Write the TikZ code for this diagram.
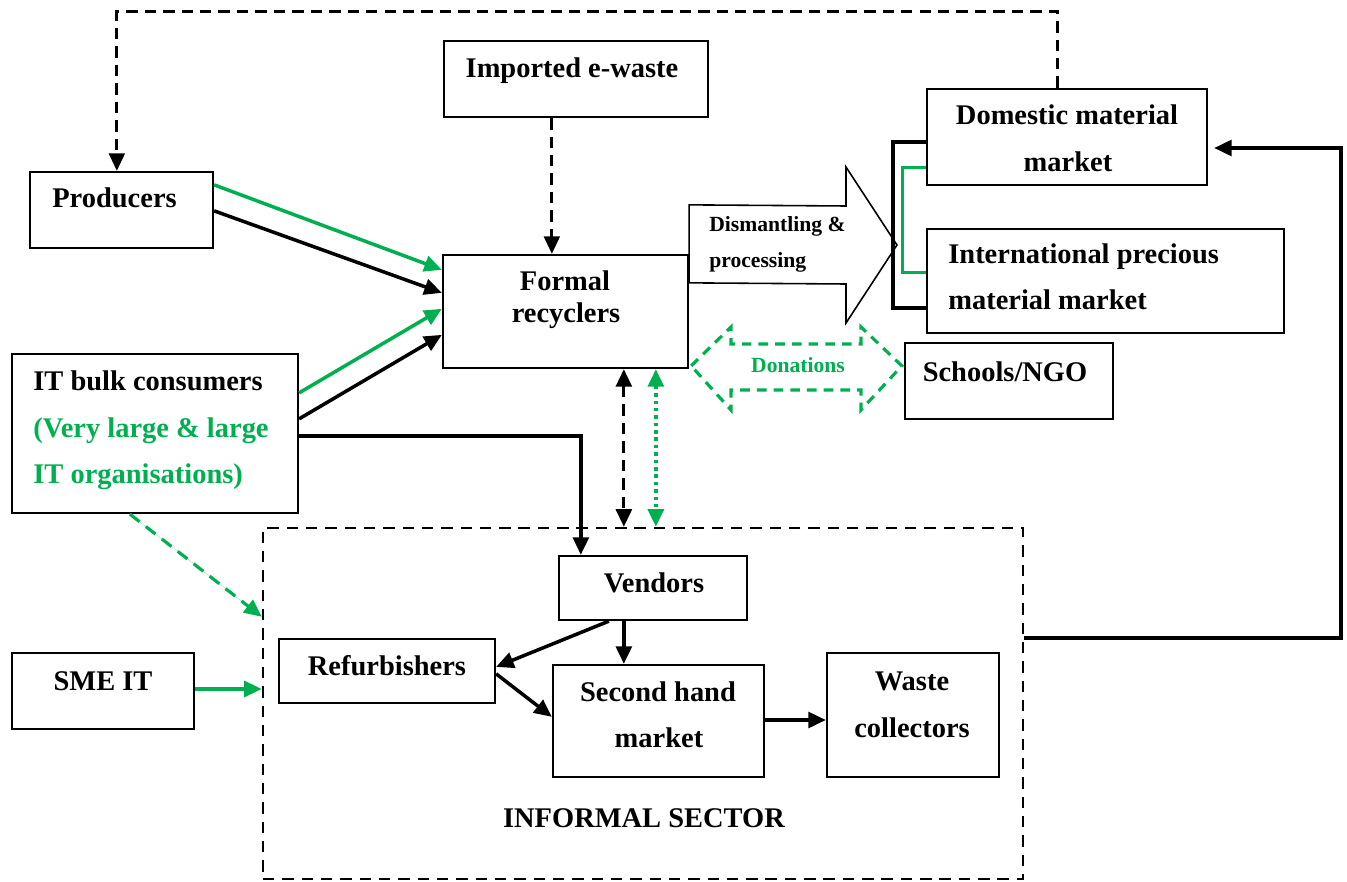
\documentclass[tikz,border=0pt]{standalone}
\usepackage{fontspec}
\setmainfont{Liberation Serif}
\usetikzlibrary{arrows.meta,calc,fit}
\definecolor{ogreen}{HTML}{00B050}
\begin{document}
\begin{tikzpicture}[x=0.02cm,y=-0.02cm,
  box/.style={draw, line width=1.3pt, inner sep=0pt},
  lbl/.style={font=\bfseries\fontsize{16.2}{19}\selectfont, inner sep=0pt, anchor=base},
  smalllbl/.style={font=\bfseries\fontsize{12.3}{15}\selectfont, inner sep=0pt, anchor=base},
  tip/.style={-{Triangle[length=10pt,width=9pt]}},
  flow/.style={line width=2pt, tip},
  gflow/.style={flow, draw=ogreen, fill=ogreen},
  dashline/.style={line width=1.6pt, dash pattern=on 6.5pt off 4pt}]

\useasboundingbox (0,0) rectangle (1347,882);

% informal sector frame
\node[draw, line width=1.4pt, dash pattern=on 6.5pt off 4.5pt, inner sep=0pt,
      fit={(263,528) (1023,879)}] (inf) {};
\node[lbl] (inflbl) at (644,827) {INFORMAL SECTOR};

% boxes
\node[box, fit={(444,41) (708,117)}] (imp) {};
\node[lbl] (impl) at (572,78) {Imported e-waste};

\node[box, fit={(30,172) (213,248)}] (prod) {};
\node[lbl, anchor=base west] (prodl) at (52,208) {Producers};

\node[box, fit={(443,255) (688,368)}] (fr) {};
\node[lbl] (frl1) at (565,291) {Formal};
\node[lbl] (frl2) at (566,322) {recyclers};

\node[box, fit={(927,89) (1207,185)}] (dom) {};
\node[lbl] (doml1) at (1067,125) {Domestic material};
\node[lbl] (doml2) at (1068,172) {market};

\node[box, fit={(927,229) (1284,333)}] (intl) {};
\node[lbl, anchor=base west] (intll1) at (948,263) {International precious};
\node[lbl, anchor=base west] (intll2) at (948,310) {material market};

\node[box, fit={(905,343) (1113,419)}] (ngo) {};
\node[lbl] (ngol) at (1005,381) {Schools/NGO};

\node[box, fit={(12,354) (298,513)}] (itb) {};
\node[lbl, anchor=base west] (itbl1) at (33,390) {IT bulk consumers};
\node[lbl, anchor=base west, text=ogreen] (itbl2) at (33,437) {(Very large \& large};
\node[lbl, anchor=base west, text=ogreen] (itbl3) at (33,483) {IT organisations)};

\node[box, fit={(12,653) (194,729)}] (sme) {};
\node[lbl] (smel) at (103,690) {SME IT};

\node[box, fit={(559,556) (747,620)}] (vend) {};
\node[lbl] (vendl) at (654,592) {Vendors};

\node[box, fit={(279,639) (495,703)}] (ref) {};
\node[lbl] (refl) at (387,675) {Refurbishers};

\node[box, fit={(553,665) (764,777)}] (sh) {};
\node[lbl] (shl1) at (658,701) {Second hand};
\node[lbl] (shl2) at (659,747) {market};

\node[box, fit={(827,653) (999,777)}] (wc) {};
\node[lbl] (wcl1) at (912,690) {Waste};
\node[lbl] (wcl2) at (912,737) {collectors};

% dismantling & processing block arrow
\draw[line width=0.9pt, line join=miter]
  ($(fr.north east)+(0,-49)$) -- (846,206) -- (846,167) -- (897,245)
  -- (846,323) -- (846,284) -- ($(fr.north east)+(0,29)$) -- cycle;
\node[smalllbl, anchor=base west] (dis1) at (709,232) {Dismantling \&};
\node[smalllbl, anchor=base west] (dis2) at (709,268) {processing};

% brackets joining the two material markets
\draw[line width=2.1pt]
  ($(dom.north west)+(0,54)$) -- ++(-33,0) |- ($(intl.north west)+(0,80)$);
\draw[line width=1.7pt, ogreen]
  ($(dom.north west)+(0,80)$) -- ++(-23,0) |- ($(intl.north west)+(0,45)$);

% donations double block arrow
\draw[ogreen, line width=1.8pt, dash pattern=on 5.5pt off 4pt, line join=miter]
  ($(fr.north east)+(2,112)$) -- (731,327) -- (731,344) -- (861,344) -- (861,327)
  -- ($(ngo.north west)+(-2,24)$) -- (861,410) -- (861,390) -- (731,390) -- (731,410) -- cycle;
\node[smalllbl, text=ogreen] (donl) at (798,372) {Donations};

% feedback loop from the domestic market to producers
\draw[dashline, tip]
  ($(dom.north west)+(132,0)$) -- ++(0,-76) -| ($(prod.north west)+(88,0)$);

% imported e-waste to formal recyclers
\draw[dashline, tip]
  ($(imp.south west)+(109,0)$) coordinate (impd) -- (impd |- fr.north);

% producers and bulk consumers to formal recyclers
\draw[gflow] ($(prod.north east)+(0,14)$) -- ($(fr.north west)+(0,16)$);
\draw[flow] ($(prod.north east)+(0,40)$) -- ($(fr.north west)+(0,39)$);
\draw[gflow] ($(itb.north east)+(0,40)$) -- ($(fr.north west)+(0,55)$);
\draw[flow] ($(itb.north east)+(0,66)$) -- ($(fr.north west)+(0,81)$);

% bulk consumers to vendors
\draw[flow] ($(itb.north east)+(0,83)$) -| ($(vend.north west)+(23,0)$);

% bulk consumers and SMEs into the informal sector
\draw[gflow, dash pattern=on 7pt off 4.5pt, line width=1.8pt]
  ($(itb.south west)+(119,0)$) -- ($(inf.north west)+(0,90)$);
\draw[gflow] ($(sme.east)+(0,-2)$) coordinate (smee) -- (smee -| inf.west);

% exchanges between formal and informal sectors
\draw[dashline, line width=1.8pt, {Triangle[length=10pt,width=9pt]}-{Triangle[length=10pt,width=9pt]}]
  ($(fr.south west)+(182,0)$) coordinate (frd) -- (frd |- inf.north);
\draw[ogreen, line width=2pt, dash pattern=on 2pt off 2.2pt,
      {Triangle[length=10pt,width=9pt]}-{Triangle[length=10pt,width=9pt]}]
  ($(fr.south west)+(214,0)$) coordinate (frg) -- (frg |- inf.north);

% flows inside the informal sector
\draw[flow] ($(vend.south west)+(51,0)$) -- ($(ref.north east)+(0,29)$);
\draw[flow] ($(vend.south west)+(66,0)$) coordinate (vd) -- (vd |- sh.north);
\draw[flow] ($(ref.north east)+(0,36)$) -- ($(sh.north west)+(0,53)$);
\draw[flow] ($(sh.east)+(0,-1)$) coordinate (she) -- (she -| wc.west);

% informal sector back to the domestic market
\draw[flow] ($(inf.north east)+(0,111)$) -- ++(317,0) |- ($(dom.east)+(6,11)$);

\end{tikzpicture}
\end{document}
